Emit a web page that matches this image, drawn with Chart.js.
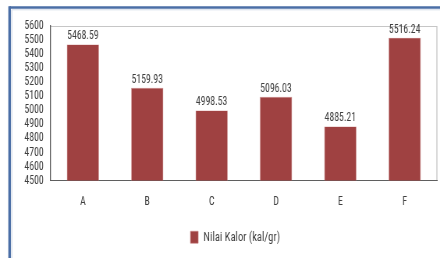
<!DOCTYPE html>
<html><head><meta charset="utf-8">
<script src="https://cdn.jsdelivr.net/npm/chart.js@4.4.1/dist/chart.umd.min.js"></script>
<style>html,body{margin:0;padding:0;background:#fff;overflow:hidden}
#c{display:block;width:440px;height:258px}</style>
</head><body><canvas id="c" width="564" height="258" style="width:440px;height:258px"></canvas>
<script>
const categories = ['A','B','C','D','E','F'];
const values = [5468.59, 5159.93, 4998.53, 5096.03, 4885.21, 5516.24];
const seriesName = 'Nilai Kalor (kal/gr)';
const yMin = 4500, yMax = 5600, yStep = 100;
const FONT = "'Roboto Condensed','DejaVu Sans Condensed',sans-serif";
const TXT = '#3f3f3f';
const SX = 564 / 440; // canvas is drawn wide, then shown compressed

const frame = {
  id: 'frame',
  afterLayout(chart) {
    const lg = chart.legend;
    if (lg) { lg.left -= 11; lg.right -= 11; }
  },
  beforeDraw(chart) {
    const ctx = chart.ctx, a = chart.chartArea;
    ctx.save();
    ctx.fillStyle = '#fff';
    ctx.fillRect(0,0,chart.width,chart.height);
    // outer blue frame
    ctx.strokeStyle = '#4a6ea6';
    ctx.lineWidth = 2.6;
    ctx.beginPath(); ctx.moveTo(9.6*SX, 7.5); ctx.lineTo(chart.width+5, 7.5); ctx.stroke();
    ctx.lineWidth = 2.6*SX;
    ctx.beginPath(); ctx.moveTo(9.6*SX, 6.2); ctx.lineTo(9.6*SX, chart.height+5); ctx.stroke();
    ctx.strokeStyle = '#d3dbe8';
    ctx.lineWidth = 1;
    ctx.beginPath(); ctx.moveTo(11.8*SX, 9.8); ctx.lineTo(chart.width+5, 9.8); ctx.stroke();
    ctx.lineWidth = SX;
    ctx.beginPath(); ctx.moveTo(11.8*SX, 9.8); ctx.lineTo(11.8*SX, chart.height+5); ctx.stroke();
    // plot area light border
    ctx.strokeStyle = '#c6c6c6';
    ctx.lineWidth = 1;
    ctx.beginPath(); ctx.moveTo(a.left, a.top+0.5); ctx.lineTo(a.right, a.top+0.5); ctx.stroke();
    ctx.lineWidth = SX;
    ctx.beginPath(); ctx.moveTo(a.right, a.top); ctx.lineTo(a.right, a.bottom); ctx.stroke();
    ctx.restore();
  },
  afterDatasetsDraw(chart) {
    const ctx = chart.ctx;
    const meta = chart.getDatasetMeta(0);
    ctx.save();
    ctx.font = '12.5px ' + FONT;
    ctx.fillStyle = TXT;
    ctx.textAlign = 'center';
    ctx.textBaseline = 'bottom';
    meta.data.forEach((el, i) => {
      ctx.fillText(values[i].toFixed(2), el.x, el.y - 2);
    });
    ctx.restore();
  }
};

new Chart(document.getElementById('c'), {
  type: 'bar',
  data: { labels: categories, datasets: [{ label: seriesName, data: values,
    backgroundColor: '#9f4141', borderColor: '#c98585', borderWidth: 0.6,
    barPercentage: 0.5, categoryPercentage: 1.0 }] },
  options: {
    responsive: false, animation: false, devicePixelRatio: 1,
    layout: { padding: { left: 0, right: 4, top: 26, bottom: 4 } },
    plugins: {
      tooltip: { enabled: false },
      legend: { position: 'bottom', fullSize: false,
        labels: { font: { family: FONT, size: 13.5 }, color: TXT,
        boxWidth: 10, boxHeight: 12, padding: 10 } }
    },
    scales: {
      x: { grid: { display: false, drawTicks: false }, border: { color: '#5f5f5f', width: 1 },
        ticks: { font: { family: FONT, size: 12.5 }, color: TXT, padding: 14 },
        afterFit(s) { s.height = 40; } },
      y: { min: yMin, max: yMax, grid: { display: false, drawTicks: false },
        border: { color: '#5f5f5f', width: 1.3 },
        ticks: { stepSize: yStep, font: { family: FONT, size: 12.5 }, color: TXT, padding: 9,
          autoSkip: false, callback: v => String(v) },
        afterFit(s) { s.width = 65; } }
    }
  },
  plugins: [frame]
});
</script></body></html>
